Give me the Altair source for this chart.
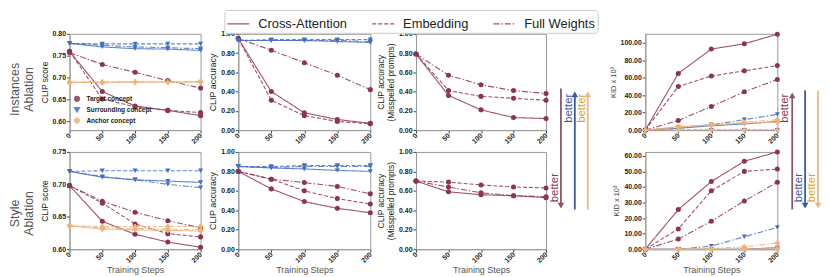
import altair as alt
import pandas as pd

STEPS = [0, 50, 100, 150, 200]
METHODS = ["Cross-Attention", "Embedding", "Full Weights"]
CONCEPTS = ["Target concept", "Surrounding concept", "Anchor concept"]
ROW_LABELS = ["Instances\nAblation", "Style\nAblation"]

# ---- Instances ablation ----
inst_clip_score = {
    "Target concept": {
        "Cross-Attention": [0.760, 0.668, 0.635, 0.625, 0.613],
        "Embedding": [0.760, 0.651, 0.633, 0.625, 0.620],
        "Full Weights": [0.757, 0.730, 0.712, 0.693, 0.676],
    },
    "Surrounding concept": {
        "Cross-Attention": [0.778, 0.770, 0.766, 0.765, 0.762],
        "Embedding": [0.778, 0.777, 0.777, 0.777, 0.777],
        "Full Weights": [0.778, 0.774, 0.770, 0.768, 0.766],
    },
    "Anchor concept": {
        "Cross-Attention": [0.689, 0.689, 0.690, 0.690, 0.690],
        "Embedding": [0.689, 0.690, 0.690, 0.690, 0.690],
        "Full Weights": [0.689, 0.689, 0.690, 0.690, 0.691],
    },
}
inst_clip_acc = {
    "Target concept": {
        "Cross-Attention": [0.95, 0.40, 0.18, 0.11, 0.07],
        "Embedding": [0.95, 0.31, 0.15, 0.09, 0.065],
        "Full Weights": [0.95, 0.83, 0.70, 0.57, 0.42],
    },
    "Surrounding concept": {
        "Cross-Attention": [0.93, 0.93, 0.93, 0.92, 0.91],
        "Embedding": [0.93, 0.94, 0.94, 0.94, 0.94],
        "Full Weights": [0.93, 0.93, 0.93, 0.93, 0.92],
    },
}
inst_misspelled = {
    "Target concept": {
        "Cross-Attention": [0.79, 0.36, 0.21, 0.13, 0.12],
        "Embedding": [0.79, 0.41, 0.35, 0.33, 0.31],
        "Full Weights": [0.79, 0.57, 0.47, 0.41, 0.38],
    },
}
inst_kid = {
    "Target concept": {
        "Cross-Attention": [0, 65, 93, 99, 110],
        "Embedding": [0, 50, 62, 68, 74],
        "Full Weights": [0, 11, 27, 44, 58],
    },
    "Surrounding concept": {
        "Cross-Attention": [0, 2, 5, 7, 10],
        "Embedding": [0, 0, 0, 0, 0],
        "Full Weights": [0, 3, 6, 12, 18],
    },
    "Anchor concept": {
        "Cross-Attention": [0, 4, 6, 8, 9],
        "Embedding": [0, 0, 0, 0, 0],
        "Full Weights": [0, 3, 6, 9, 12],
    },
}

# ---- Style ablation ----
style_clip_score = {
    "Target concept": {
        "Cross-Attention": [0.698, 0.643, 0.623, 0.611, 0.603],
        "Embedding": [0.698, 0.671, 0.639, 0.624, 0.619],
        "Full Weights": [0.698, 0.674, 0.657, 0.644, 0.633],
    },
    "Surrounding concept": {
        "Cross-Attention": [0.720, 0.711, 0.707, 0.705, 0.703],
        "Embedding": [0.720, 0.721, 0.721, 0.721, 0.721],
        "Full Weights": [0.720, 0.712, 0.707, 0.700, 0.695],
    },
    "Anchor concept": {
        "Cross-Attention": [0.636, 0.631, 0.630, 0.629, 0.628],
        "Embedding": [0.636, 0.635, 0.635, 0.635, 0.635],
        "Full Weights": [0.636, 0.633, 0.632, 0.631, 0.630],
    },
}
style_clip_acc = {
    "Target concept": {
        "Cross-Attention": [0.80, 0.62, 0.49, 0.42, 0.375],
        "Embedding": [0.80, 0.72, 0.60, 0.52, 0.465],
        "Full Weights": [0.80, 0.72, 0.685, 0.645, 0.57],
    },
    "Surrounding concept": {
        "Cross-Attention": [0.85, 0.835, 0.825, 0.81, 0.80],
        "Embedding": [0.85, 0.85, 0.86, 0.86, 0.86],
        "Full Weights": [0.85, 0.84, 0.85, 0.85, 0.85],
    },
}
style_misspelled = {
    "Target concept": {
        "Cross-Attention": [0.70, 0.59, 0.56, 0.55, 0.53],
        "Embedding": [0.70, 0.69, 0.66, 0.64, 0.63],
        "Full Weights": [0.70, 0.64, 0.58, 0.55, 0.54],
    },
}
style_kid = {
    "Target concept": {
        "Cross-Attention": [0, 25.5, 43.5, 56.5, 62.5],
        "Embedding": [0, 13, 37.5, 50, 51.5],
        "Full Weights": [0, 6.5, 18, 31, 43],
    },
    "Surrounding concept": {
        "Cross-Attention": [0, 0, 0, 0, 1],
        "Embedding": [0, 0, 0, 0, 0],
        "Full Weights": [0, 0, 2, 8, 14],
    },
    "Anchor concept": {
        "Cross-Attention": [0, 0, 0, 0, 0.5],
        "Embedding": [0, 0, 0, 0, 0],
        "Full Weights": [0, 0, 0.5, 1.5, 4],
    },
}

MAROON = "#8C3553"
BLUE = "#4570C0"
ORANGE = "#F0B27A"
FONT = "Liberation Sans"


def make_df(d):
    rows = []
    for concept, md in d.items():
        for method, vals in md.items():
            for s, v in zip(STEPS, vals):
                rows.append({"concept": concept, "method": method, "step": s, "value": v})
    return pd.DataFrame(rows)


color_scale = alt.Scale(domain=CONCEPTS, range=[MAROON, BLUE, ORANGE])
shape_scale = alt.Scale(domain=CONCEPTS, range=["circle", "triangle-down", "cross"])
dash_scale = alt.Scale(domain=METHODS, range=[[1, 0], [4, 2], [6, 2, 1.5, 2]])

concept_legend = alt.Legend(
    title=None, orient="bottom-left", offset=4,
    labelFont=FONT, labelFontSize=6.5, labelFontWeight="bold", labelColor="#222",
    symbolSize=22, rowPadding=0, padding=0, labelOffset=6,
)
dash_legend = alt.Legend(
    title=None, orient="none", legendX=216, legendY=-24, direction="horizontal", columns=3,
    symbolType="stroke", symbolStrokeColor=MAROON, symbolStrokeWidth=1.5, symbolSize=484,
    labelFont=FONT, labelFontSize=13, labelColor="#222", strokeColor="#cccccc",
    fillColor="white", padding=2, cornerRadius=3, columnPadding=22, labelOffset=8,
)


def panel(d, ytitle, ydom, yticks, w, h, xtitle, ytitle_size=8.5, ytitle_color="#222",
          show_concepts=False):
    df = make_df(d)
    x = alt.X(
        "step:Q",
        scale=alt.Scale(domain=[0, 200], nice=False, zero=False),
        axis=alt.Axis(values=STEPS, format="d", labelAngle=-45, labelAlign="right",
                      labelBaseline="middle", title=xtitle, titleFontSize=9,
                      titleColor="#555", titlePadding=2),
    )
    y = alt.Y(
        "value:Q",
        scale=alt.Scale(domain=ydom, nice=False, zero=False),
        axis=alt.Axis(values=yticks, format=".2f", title=ytitle,
                      titleFontSize=ytitle_size, titleColor=ytitle_color),
    )
    leg = concept_legend if show_concepts else None
    lines = alt.Chart(df).mark_line(strokeWidth=1.1, opacity=0.85).encode(
        x=x, y=y,
        color=alt.Color("concept:N", scale=color_scale, legend=leg),
        strokeDash=alt.StrokeDash("method:N", scale=dash_scale, legend=dash_legend),
        detail="method:N",
    )
    pts = alt.Chart(df).mark_point(filled=True, size=26, opacity=1).encode(
        x=x, y=y,
        color=alt.Color("concept:N", scale=color_scale, legend=leg),
        shape=alt.Shape("concept:N", scale=shape_scale, legend=leg),
    )
    return alt.layer(lines, pts).properties(
        width=w, height=h, view=alt.ViewBackground(stroke="#999", strokeWidth=1)
    )


acc_ticks = [0.0, 0.2, 0.4, 0.6, 0.8, 1.0]
mis_title = ["CLIP accuracy", "(Misspelled prompts)"]
kid_title = "KID x 10³"

H1, H2 = 97, 98
ROWGAP = 22
p1a = panel(inst_clip_score, "CLIP score", [0.58, 0.80], [0.60, 0.65, 0.70, 0.75, 0.80], 132, H1, None,
            show_concepts=True)
p2a = panel(inst_clip_acc, "CLIP accuracy", [0, 1], acc_ticks, 133, H1, None, 9)
p3a = panel(inst_misspelled, mis_title, [0, 1], acc_ticks, 131, H1, None)
p4a = panel(inst_kid, kid_title, [0, 110.5], [0, 20, 40, 60, 80, 100], 133, H1, None, 7.5, "#444")

p1b = panel(style_clip_score, "CLIP score", [0.60, 0.75], [0.60, 0.65, 0.70, 0.75], 132, H2, "Training Steps")
p2b = panel(style_clip_acc, "CLIP accuracy", [0, 1], acc_ticks, 133, H2, "Training Steps", 9)
p3b = panel(style_misspelled, mis_title, [0, 1], acc_ticks, 131, H2, "Training Steps")
p4b = panel(style_kid, kid_title, [0, 62.5], [0, 10, 20, 30, 40, 50, 60], 133, H2, "Training Steps", 7.5, "#444")

NOFRAME = alt.ViewBackground(strokeOpacity=0)


def spacer(w, h):
    return alt.Chart().mark_point(opacity=0).encode(
        x=alt.value(0), y=alt.value(0)).properties(width=w, height=h, view=NOFRAME)


def row_label(text, h, yc):
    return alt.Chart().mark_text(
        text=text, lineBreak="\n", angle=270, font=FONT, fontSize=12.5, lineHeight=14,
        color="#555", align="center", baseline="middle",
    ).encode(x=alt.value(5), y=alt.value(yc)).properties(width=60, height=h, view=NOFRAME)


A_MAROON = "#8E5565"
A_BLUE = "#3B57A6"
A_ORANGE = "#E9B98C"
T_MAROON = "#8A3550"
T_BLUE = "#3B57A6"
T_GOLD = "#D9A21E"


def arrow(xp, top, bottom, up, color):
    shaft = alt.Chart().mark_rule(color=color, strokeWidth=1.8).encode(
        x=alt.value(xp), y=alt.value(top + (6 if up else 0)), y2=alt.value(bottom - (0 if up else 6)))
    head = alt.Chart().mark_point(shape="triangle-up" if up else "triangle-down", filled=True,
                                  size=45, color=color, opacity=1).encode(
        x=alt.value(xp), y=alt.value(top + 4 if up else bottom - 4))
    return [shaft, head]


def better(xp, yp, color):
    return alt.Chart().mark_text(text="better", angle=270, font=FONT, fontSize=11.5, color=color,
                                 align="center", baseline="middle").encode(x=alt.value(xp), y=alt.value(yp))


arrows1 = alt.layer(
    *arrow(15, 55, 177, False, A_MAROON),
    *arrow(29, 57, 177, True, A_BLUE),
    *arrow(42, 57, 177, True, A_ORANGE),
    better(23, 75, T_BLUE),
    better(36, 75, T_GOLD),
    better(9, 155, T_MAROON),
).properties(width=100, height=H1, view=NOFRAME)

arrows2 = alt.layer(
    *arrow(15, 58, 177, True, A_MAROON),
    *arrow(28, 57, 177, False, A_BLUE),
    *arrow(41, 57, 177, False, A_ORANGE),
    better(8, 75, T_MAROON),
    better(22, 155, T_BLUE),
    better(35, 155, T_GOLD),
).properties(width=44, height=H1, view=NOFRAME)

cells = [
    row_label(ROW_LABELS[0], H1, 56), p1a, spacer(38, H1), p2a, spacer(46, H1), p3a, arrows1, p4a, arrows2,
    row_label(ROW_LABELS[1], H2, 62), p1b, spacer(38, H2), p2b, spacer(46, H2), p3b, spacer(100, H2), p4b, spacer(44, H2),
]

chart = alt.concat(*cells, columns=9, spacing={"row": ROWGAP, "column": 0}, bounds="flush").resolve_scale(
    color="independent", shape="independent"
).properties(
    padding=0
).configure_axis(
    labelFont=FONT, labelFontSize=7, labelFontWeight="bold", labelColor="#222",
    titleFont=FONT, titleFontWeight="normal", tickColor="#444", tickSize=3,
    domainColor="#999", grid=False, labelPadding=1, titlePadding=3,
).configure_view(stroke=None)

chart.save("out.html", embed_options={"renderer": "svg", "actions": False})
